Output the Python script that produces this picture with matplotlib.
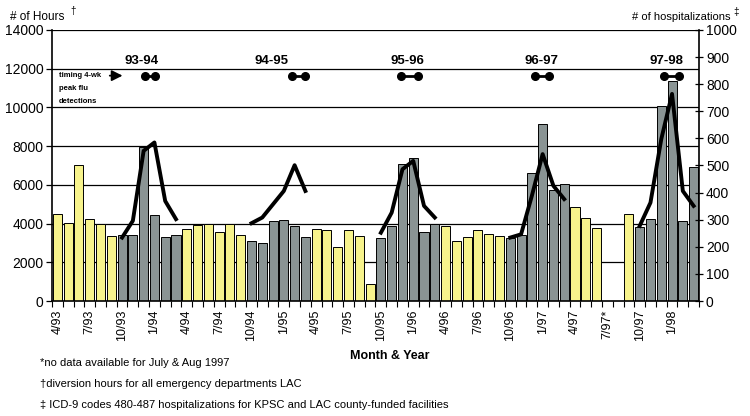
import numpy as np
import matplotlib
matplotlib.use('Agg')
import matplotlib.pyplot as plt

plt.rcParams['font.family'] = ['Liberation Sans', 'DejaVu Sans']

# months 4/93 .. 3/98, one bar per month
months = []
for y in range(93, 99):
    for m in range(1, 13):
        if (y == 93 and m < 4) or (y == 98 and m > 3):
            continue
        months.append((m, y))

# diversion hours (left axis), no data for 7/97 and 8/97
hours = [4500, 4050, 7050, 4250, 4000, 3350, 3400, 3400, 7950, 4450, 3300, 3400,
         3700, 3950, 3980, 3540, 3980, 3400, 3120, 2990, 4140, 4190, 3880, 3300,
         3720, 3660, 2770, 3670, 3360, 870, 3260, 3850, 7080, 7380, 3560, 4000,
         3900, 3080, 3320, 3690, 3440, 3380, 3240, 3410, 6600, 9140, 5740, 6030,
         4840, 4310, 3780, np.nan, np.nan, 4480, 3830, 4260, 10090, 11360, 4140, 6900]

# hospitalizations (right axis), Oct-Mar of each season
hosp_9394 = [234, 296, 554, 585, 369, 302]
hosp_9495 = [287, 308, 357, 406, 501, 406]
hosp_9596 = [252, 326, 486, 517, 351, 308]
hosp_9697 = [234, 246, 388, 542, 425, 376]
hosp_9798 = [277, 363, 597, 764, 406, 351]

seasons = ['93-94', '94-95', '95-96', '96-97', '97-98']
season_pos = [7.85, 19.9, 32.5, 44.9, 56.5]
# timing of 4-wk peak flu detections, in month index units
peak_start = [8.1, 21.8, 31.9, 44.3, 56.3]
peak_end = [9.1, 23.0, 33.4, 45.6, 57.6]

tick_labels = ['4/93', '7/93', '10/93', '1/94', '4/94', '7/94', '10/94', '1/95',
               '4/95', '7/95', '10/95', '1/96', '4/96', '7/96', '10/96', '1/97',
               '4/97', '7/97*', '10/97', '1/98']

n = len(months)
x = np.arange(n)
hosp = np.full(n, np.nan)
for vals, start in zip([hosp_9394, hosp_9495, hosp_9596, hosp_9697, hosp_9798],
                       [6, 18, 30, 42, 54]):
    hosp[start:start + 6] = vals

yellow = '#F7F38C'
gray = '#8A9494'
colors = [gray if m >= 10 or m <= 3 else yellow for m, y in months]

fig = plt.figure(figsize=(7.5, 4.16), dpi=100)
ax = fig.add_axes([0.0693, 0.2764, 0.8627, 0.6516])

for g in range(2000, 14001, 2000):
    ax.axhline(g, color='black', lw=0.9, zorder=0)

ax.bar(x, hours, width=0.84, color=colors, edgecolor='black', linewidth=0.7, zorder=2)
ax.set_xlim(-0.5, n - 0.5)
ax.set_ylim(0, 14000)
ax.set_yticks(range(0, 14001, 2000))
ax.tick_params(axis='y', labelsize=10, length=4, direction='out', width=0.9, pad=2)
ax.set_xticks(np.arange(0, n, 3))
ax.set_xticklabels(tick_labels, rotation=90, fontsize=9)
ax.set_xticks(np.arange(-0.5, n, 1), minor=True)
ax.tick_params(axis='x', which='major', length=0, pad=6)
ax.tick_params(axis='x', which='minor', length=4, width=0.8, direction='out')
for s in ['top', 'right']:
    ax.spines[s].set_visible(False)
ax.spines['left'].set_linewidth(1.2)
ax.spines['bottom'].set_linewidth(1.2)

ax2 = ax.twinx()
ax2.plot(x, hosp, color='black', lw=2.8, zorder=5, solid_joinstyle='round')
ax2.set_ylim(0, 1000)
ax2.set_yticks(range(0, 1001, 100))
ax2.tick_params(axis='y', labelsize=10, length=6, direction='inout', width=0.9, pad=2)
for s in ['top', 'left', 'bottom']:
    ax2.spines[s].set_visible(False)
ax2.spines['right'].set_linewidth(1.2)

# season labels and peak timing dumbbells
for name, p, a, b in zip(seasons, season_pos, peak_start, peak_end):
    ax.text(p, 12420, name, ha='center', va='center',
            fontsize=9.5, fontweight='bold', zorder=6)
    ax.plot([a, b], [11640, 11640], color='black', lw=2, marker='o',
            markersize=5.5, zorder=6)

ax.text(0.15, 11640, 'timing 4-wk', fontsize=5.5, fontweight='bold',
        va='center', zorder=6)
ax.text(0.15, 10960, 'peak flu', fontsize=5.5, fontweight='bold',
        va='center', zorder=6)
ax.text(0.15, 10330, 'detections', fontsize=5.5, fontweight='bold',
        va='center', zorder=6)
ax.annotate('', xy=(6.3, 11640), xytext=(4.6, 11640),
            arrowprops=dict(arrowstyle='-|>', color='black', lw=1.3,
                            mutation_scale=16), zorder=6)

fig.text(10 / 750, 1 - 17 / 416, '# of Hours', fontsize=8.5, va='center')
fig.text(70 / 750, 1 - 11 / 416, '\u2020', fontsize=7, va='center')
fig.text(730 / 750, 1 - 17 / 416, '# of hospitalizations', fontsize=8,
         va='center', ha='right')
fig.text(733 / 750, 1 - 12 / 416, '\u2021', fontsize=7, va='center')

fig.text(390 / 750, 1 - 356 / 416, 'Month & Year', fontsize=9,
         fontweight='bold', ha='center', va='center')
fig.text(40 / 750, 1 - 363 / 416, '*no data available for July & Aug 1997',
         fontsize=8, va='center')
fig.text(40 / 750, 1 - 384 / 416,
         '\u2020diversion hours for all emergency departments LAC',
         fontsize=8, va='center')
fig.text(40 / 750, 1 - 405 / 416,
         '\u2021 ICD-9 codes 480-487 hospitalizations for KPSC and LAC county-funded facilities',
         fontsize=8, va='center')

fig.savefig('out.png', dpi=100)
